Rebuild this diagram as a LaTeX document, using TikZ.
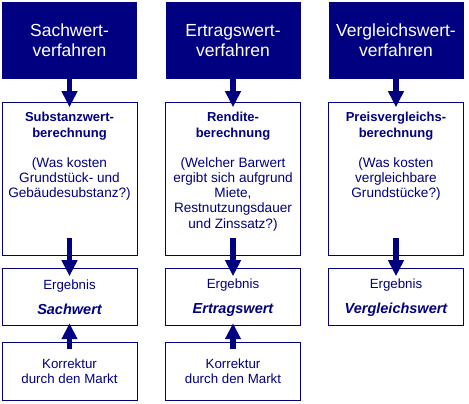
\documentclass[tikz,border=0pt]{standalone}
\usepackage{fontspec}
\setmainfont{Liberation Sans}
\usetikzlibrary{arrows.meta,positioning}
\definecolor{cnavy}{HTML}{000080}
\newcommand{\ergwert}[1]{{\fontsize{14.5}{15}\selectfont\bfseries\itshape #1}}
\newcommand{\calctitle}[1]{{\fontsize{13}{15}\selectfont\bfseries #1}}

\begin{document}
\begin{tikzpicture}[
  x=1pt, y=1pt,
  head/.style={fill=cnavy, text=white, minimum width=135pt, minimum height=77pt, inner sep=0pt, align=center, font=\fontsize{17.5}{20}\selectfont},
  calcbox/.style={draw=cnavy, line width=1pt, fill=white, minimum width=135pt, minimum height=153pt, inner sep=0pt},
  calctext/.style={text=cnavy, align=center, inner sep=0pt, font=\fontsize{13.6}{15.2}\selectfont},
  resbox/.style={draw=cnavy, line width=1pt, fill=white, minimum width=135pt, minimum height=57pt, inner sep=0pt, text=cnavy, align=center, font=\fontsize{13.3}{15}\selectfont},
  korrbox/.style={resbox, minimum height=58pt},
  arr/.style={-{Triangle[length=16pt,width=15pt]}, line width=5.5pt, cnavy},
]
\useasboundingbox (0,0) rectangle (469,-404);

\node[head] (sach) at (69.5,-40.5) {Sachwert-\\verfahren};
\node[head] (ertrag) at (233,-40.5) {Ertragswert-\\verfahren};
\node[head] (vergl) at (396,-40.5) {Vergleichswert-\\verfahren};

\node[calcbox, below=23pt of sach] (sachcalc) {};
\node[calcbox, below=23pt of ertrag] (ertragcalc) {};
\node[calcbox, below=23pt of vergl] (verglcalc) {};
\node[calctext, below=10pt] (sachcalctxt) at (sachcalc.north)
  {\calctitle{Substanzwert-}\\ \calctitle{berechnung}\\[15pt] (Was kosten\\ Grundstück- und\\ Gebäudesubstanz?)};
\node[calctext, below=10pt] (ertragcalctxt) at (ertragcalc.north)
  {\calctitle{Rendite-}\\ \calctitle{berechnung}\\[15pt] (Welcher Barwert\\ ergibt sich aufgrund\\ Miete,\\ Restnutzungsdauer\\ und Zinssatz?)};
\node[calctext, below=10pt] (verglcalctxt) at (verglcalc.north)
  {\calctitle{Preisvergleichs-}\\ \calctitle{berechnung}\\[15pt] (Was kosten\\ vergleichbare\\ Grundstücke?)};

\node[resbox, below=12pt of sachcalc] (sachres) {Ergebnis\\[10pt] \ergwert{Sachwert}};
\node[resbox, below=12pt of ertragcalc] (ertragres) {Ergebnis\\[10pt] \ergwert{Ertragswert}};
\node[resbox, below=12pt of verglcalc] (verglres) {Ergebnis\\[10pt] \ergwert{Vergleichswert}};

\node[korrbox, below=16pt of sachres] (sachkorr) {Korrektur\\ durch den Markt};
\node[korrbox, below=16pt of ertragres] (ertragkorr) {Korrektur\\ durch den Markt};

\foreach \c in {sach,ertrag,vergl}{
  \draw[arr] (\c.south) -- ([yshift=-5pt]\c calc.north);
  \draw[arr] ([yshift=18pt]\c calc.south) -- ([yshift=-8pt]\c res.north);
}
\foreach \c in {sach,ertrag}{
  \draw[arr] ([yshift=-7pt]\c korr.north) -- ([yshift=3pt]\c res.south);
}
\end{tikzpicture}
\end{document}
